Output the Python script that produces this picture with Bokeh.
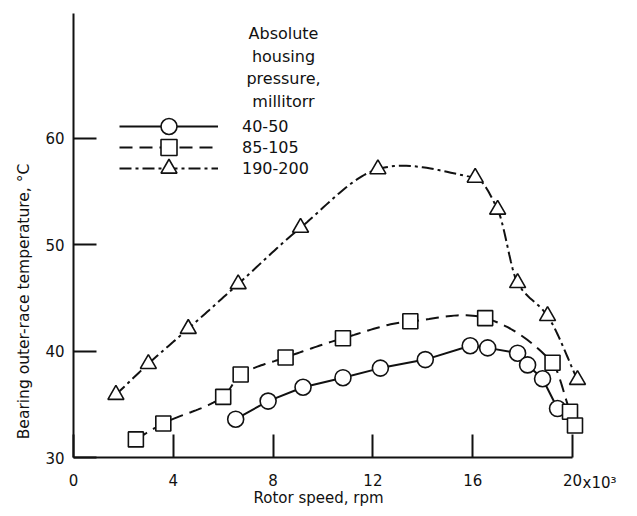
import math
from bokeh.plotting import figure
from bokeh.models import (Range1d, FixedTicker, Legend, LegendItem, Label, LinearAxis)
from bokeh.embed import file_html
from bokeh.resources import INLINE

# ---- data ----
x_ticks = [0, 4, 8, 12, 16, 20]
y_ticks = [30, 40, 50, 60]

circ_label = "40-50"
circ_x = [6.5, 7.8, 9.2, 10.8, 12.3, 14.1, 15.9, 16.6, 17.8, 18.2, 18.8, 19.4]
circ_y = [33.6, 35.3, 36.6, 37.5, 38.4, 39.2, 40.5, 40.3, 39.8, 38.7, 37.4, 34.6]

sq_label = "85-105"
sq_x = [2.5, 3.6, 6.0, 6.7, 8.5, 10.8, 13.5, 16.5, 19.2, 19.9, 20.1]
sq_y = [31.7, 33.2, 35.7, 37.8, 39.4, 41.2, 42.8, 43.1, 38.9, 34.3, 33.0]

tri_label = "190-200"
tri_x = [1.7, 3.0, 4.6, 6.6, 9.1, 12.2, 16.1, 17.0, 17.8, 19.0, 20.2]
tri_y = [35.9, 38.8, 42.1, 46.3, 51.6, 57.1, 56.3, 53.3, 46.4, 43.3, 37.3]

legend_title = ["Absolute", "housing", "pressure,", "millitorr"]
x_label = "Rotor speed, rpm"
y_label = "Bearing outer-race temperature, \u00b0C"
x_mult = "x10\u00b3"

FONT = "DejaVu Sans"
INK = "#111111"
W, H = 637, 516


def smooth(xs, ys, n=24):
    """Hermite curve through the read points (display only)."""
    k = len(xs)
    d = [(ys[i + 1] - ys[i]) / (xs[i + 1] - xs[i]) for i in range(k - 1)]
    m = [d[0]]
    for i in range(1, k - 1):
        if d[i - 1] * d[i] > 0:
            m.append(2.0 / (1.0 / d[i - 1] + 1.0 / d[i]))
        else:
            m.append((ys[i + 1] - ys[i - 1]) / (xs[i + 1] - xs[i - 1]))
    m.append(d[-1])
    ox, oy = [], []
    for i in range(k - 1):
        h = xs[i + 1] - xs[i]
        for j in range(n):
            t = j / n
            h00 = 2 * t**3 - 3 * t**2 + 1
            h10 = t**3 - 2 * t**2 + t
            h01 = -2 * t**3 + 3 * t**2
            h11 = t**3 - t**2
            ox.append(xs[i] + t * h)
            oy.append(h00 * ys[i] + h10 * h * m[i] + h01 * ys[i + 1] + h11 * h * m[i + 1])
    ox.append(xs[-1])
    oy.append(ys[-1])
    return ox, oy


# frame fills the whole canvas; x=0 sits at 73px, y=30 at 457px from top
PX_X = 24.95
PX_Y = 10.643
x0 = -73 / PX_X
x1 = x0 + W / PX_X
y0 = 30 - (H - 457) / PX_Y
y1 = y0 + H / PX_Y

p = figure(width=W, height=H,
           x_range=Range1d(x0, x1), y_range=Range1d(y0, y1),
           x_axis_location=None, y_axis_location=None,
           min_border_left=0, min_border_right=0,
           min_border_top=0, min_border_bottom=0,
           output_backend="svg", toolbar_location=None)
p.outline_line_color = None
for g in p.grid:
    g.visible = False
p.background_fill_color = "white"
p.border_fill_color = "white"

xaxis = LinearAxis(fixed_location=30, ticker=FixedTicker(ticks=x_ticks),
                   bounds=(0, 20), major_label_standoff=16)
yaxis = LinearAxis(fixed_location=0, ticker=FixedTicker(ticks=y_ticks),
                   bounds=(30, 71.7), major_label_standoff=9)
for ax in (xaxis, yaxis):
    ax.axis_line_width = 2
    ax.axis_line_color = INK
    ax.major_tick_line_width = 2
    ax.major_tick_line_color = INK
    ax.major_tick_in = 23
    ax.major_tick_out = 0
    ax.minor_tick_line_color = None
    ax.major_label_text_font = FONT
    ax.major_label_text_font_size = "15px"
    ax.major_label_text_color = INK
p.add_layout(xaxis, "below")
p.add_layout(yaxis, "left")

# ---- series ----
lc = p.line(circ_x, circ_y, line_color=INK, line_width=2)
sc = p.scatter(circ_x, circ_y, marker="circle", size=16, fill_color="white",
               line_color=INK, line_width=1.6)

sx, sy = smooth(sq_x, sq_y)
ls = p.line(sx, sy, line_color=INK, line_width=2, line_dash="13 7")
ss = p.scatter(sq_x, sq_y, marker="square", size=15, fill_color="white",
               line_color=INK, line_width=1.6)

tx, ty = smooth(tri_x, tri_y)
lt = p.line(tx, ty, line_color=INK, line_width=2, line_dash="12 4 3 4")
st = p.scatter(tri_x, tri_y, marker="triangle", size=16, fill_color="white",
               line_color=INK, line_width=1.6)

# one legend per row so the rows can sit closer than the marker glyph box
rows = [(circ_label, [lc, sc]), (sq_label, [ls, ss]), (tri_label, [lt, st])]
for i, (lab, rends) in enumerate(rows):
    row_center = 126 + 21 * i          # px from the top of the canvas
    lg = Legend(items=[LegendItem(label=lab, renderers=rends)],
                location=(119, H - (row_center + 20)), margin=0, padding=0,
                spacing=0, glyph_width=99, glyph_height=40, label_height=40,
                label_standoff=24, label_text_font=FONT,
                label_text_font_size="16px", label_text_color=INK,
                label_text_baseline="middle",
                border_line_color=None, background_fill_alpha=0)
    p.add_layout(lg)

# legend title (multi-line)
for i, t in enumerate(legend_title):
    p.add_layout(Label(x=283, y=H - 33 - 22.5 * i, x_units="screen", y_units="screen",
                       text=t, text_font=FONT, text_font_size="16px",
                       text_color=INK, text_align="center",
                       text_baseline="alphabetic"))

# axis titles
p.add_layout(Label(x=318, y=H - 497, x_units="screen", y_units="screen",
                   text=x_label, text_font=FONT, text_font_size="15px",
                   text_color=INK, text_align="center", text_baseline="middle"))
p.add_layout(Label(x=23, y=H - 301, x_units="screen", y_units="screen",
                   text=y_label, text_font=FONT, text_font_size="15.5px",
                   text_color=INK, text_align="center", text_baseline="middle",
                   angle=math.pi / 2))

# multiplier after the last x tick label
p.add_layout(Label(x=x_ticks[-1], y=30, text=x_mult, x_offset=10, y_offset=-25,
                   text_font=FONT, text_font_size="15px", text_color=INK,
                   text_align="left", text_baseline="middle"))

open("out.html", "w").write(file_html(p, INLINE))
